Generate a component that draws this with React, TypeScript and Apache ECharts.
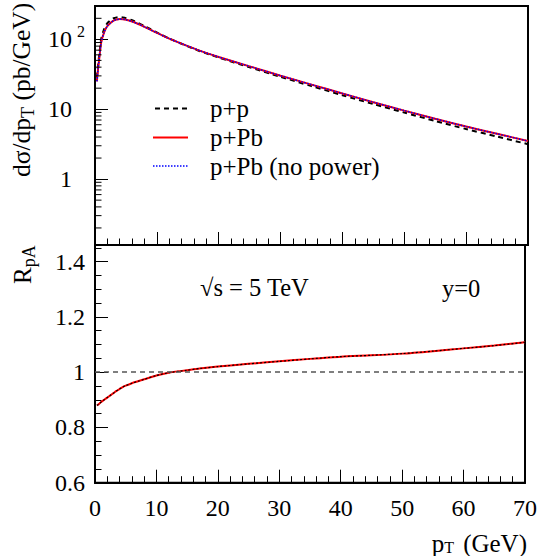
import React, { useEffect, useRef } from "react";
import * as echarts from "echarts";

// pT grid (GeV)
const pT = [0.3, 0.5, 0.75, 1, 1.5, 2, 2.5, 3, 3.5, 4, 4.5, 5, 6, 7, 8, 10, 12, 15, 17, 20, 25, 30, 35, 40, 45, 50, 55, 60, 65, 70];
// dsigma/dpT (pb/GeV)
const sigmaPP = [28.4, 43.1, 67.6, 100.9, 142.2, 170.7, 187.8, 200.2, 206, 207.7, 205.1, 200.8, 187.5, 171.7, 155, 125.5, 102.7, 79.4, 67.6, 54.9, 39.8, 29.07, 21.43, 15.88, 11.86, 8.95, 6.79, 5.2, 4.06, 3.16];
const sigmaPPb = [25, 38, 60, 90, 128, 155, 172, 185, 192, 195, 194, 191, 180, 166, 151, 124, 102.5, 80, 68.5, 56, 41, 30.2, 22.5, 16.8, 12.6, 9.55, 7.3, 5.65, 4.45, 3.5];
const sigmaPPbNoPower = [25, 38, 60, 90, 128, 155, 172, 185, 192, 195, 194, 191, 180, 166, 151, 124, 102.5, 80, 68.5, 56, 41, 30.2, 22.5, 16.8, 12.6, 9.55, 7.3, 5.65, 4.45, 3.5];
// R_pA
const rpA = [0.88, 0.882, 0.887, 0.892, 0.9, 0.908, 0.916, 0.924, 0.932, 0.939, 0.946, 0.951, 0.96, 0.967, 0.974, 0.988, 0.998, 1.007, 1.013, 1.02, 1.03, 1.039, 1.048, 1.056, 1.061, 1.067, 1.076, 1.086, 1.096, 1.108];
const rpANoPower = [0.88, 0.882, 0.887, 0.892, 0.9, 0.908, 0.916, 0.924, 0.932, 0.939, 0.946, 0.951, 0.96, 0.967, 0.974, 0.988, 0.998, 1.007, 1.013, 1.02, 1.03, 1.039, 1.048, 1.056, 1.061, 1.067, 1.076, 1.086, 1.096, 1.108];
// log-axis minor tick values
const logMinorTicks = [0.2, 0.3, 0.4, 0.5, 0.6, 0.7, 0.8, 0.9, 2, 3, 4, 5, 6, 7, 8, 9, 20, 30, 40, 50, 60, 70, 80, 90, 200];
const legendNames = ["p+p", "p+Pb", "p+Pb (no power)"];

const FONT = '"Liberation Serif", "Times New Roman", serif';

function tw(s: string, size: number): number {
  const c = document.createElement("canvas").getContext("2d")!;
  c.font = `${size}px "Liberation Serif"`;
  return c.measureText(s).width;
}

export default function App() {
  const ref = useRef<HTMLDivElement>(null);
  useEffect(() => {
    const el = ref.current!;
    const chart = echarts.init(el, null, { renderer: "svg", width: 540, height: 556 });
    const L = 95;
    const RIGHT = 12;
    const tickLine = { color: "#000", width: 1 };
    const axisLine = { show: true, lineStyle: { color: "#000", width: 2 } };
    const xCommon = {
      type: "value" as const,
      min: 0,
      max: 70,
      interval: 10,
      axisLine,
      axisTick: { show: true, inside: true, length: 13, lineStyle: tickLine },
      minorTick: { show: true, splitNumber: 5, length: 6.5, lineStyle: tickLine },
      splitLine: { show: false },
      minorSplitLine: { show: false },
    };
    const labelStyle = { color: "#000", fontFamily: FONT, fontSize: 24 };

    chart.setOption({
      animation: false,
      backgroundColor: "#fff",
      grid: [
        { left: L, right: RIGHT, top: 6, height: 239, show: true, borderColor: "#000", borderWidth: 2, backgroundColor: "transparent" },
        { left: L, right: RIGHT, top: 245, height: 237.7, show: true, borderColor: "#000", borderWidth: 2, backgroundColor: "transparent" },
      ],
      xAxis: [
        { ...xCommon, gridIndex: 0, axisLabel: { show: false } },
        { ...xCommon, gridIndex: 1, axisLabel: { show: true, margin: 13, ...labelStyle } },
      ],
      yAxis: [
        {
          gridIndex: 0,
          type: "log",
          logBase: 10,
          min: 0.114,
          max: 300,
          position: "left",
          axisLine,
          axisTick: { show: true, inside: true, length: 13, lineStyle: tickLine },
          splitLine: { show: false },
          axisLabel: {
            margin: 23,
            showMinLabel: false,
            showMaxLabel: false,
            ...labelStyle,
            formatter: (v: number) => {
              const r = Math.round(Math.log10(v));
              return r === 2 || r === 1 ? "10" : r === 0 ? "1" : "";
            },
          },
        },
        {
          gridIndex: 1,
          type: "value",
          min: 0.6,
          max: 1.46,
          interval: 0.2,
          position: "left",
          offset: 0,
          axisLine,
          axisTick: { show: true, inside: true, length: 13, lineStyle: tickLine },
          splitLine: { show: false },
          axisLabel: {
            margin: 10,
            showMaxLabel: false,
            ...labelStyle,
            formatter: (v: number) => (Math.abs(v - 1) < 1e-6 ? "1" : v.toFixed(1)),
          },
        },
        {
          gridIndex: 1,
          type: "value",
          min: 0.6,
          max: 1.46,
          interval: 0.05,
          position: "left",
          offset: 0,
          axisLine: { show: false },
          axisTick: { show: true, inside: true, length: 6.5, lineStyle: tickLine },
          splitLine: { show: false },
          axisLabel: { show: false },
        },
      ],
      series: [
        {
          name: legendNames[0],
          type: "line",
          xAxisIndex: 0,
          yAxisIndex: 0,
          symbol: "none",
          smooth: 0.25,
          z: 2,
          data: pT.map((x, i) => [x, sigmaPP[i]]),
          lineStyle: { color: "#000", width: 2, type: [5, 4] },
        },
        {
          name: legendNames[1],
          type: "line",
          xAxisIndex: 0,
          yAxisIndex: 0,
          symbol: "none",
          smooth: 0.25,
          z: 3,
          data: pT.map((x, i) => [x, sigmaPPb[i]]),
          lineStyle: { color: "#ff0000", width: 2 },
        },
        {
          name: legendNames[2],
          type: "line",
          xAxisIndex: 0,
          yAxisIndex: 0,
          symbol: "none",
          smooth: 0.25,
          z: 4,
          data: pT.map((x, i) => [x, sigmaPPbNoPower[i]]),
          lineStyle: { color: "#0000ff", width: 1.5, type: [1.5, 1.5] },
        },
        {
          name: "RpA",
          type: "line",
          xAxisIndex: 1,
          yAxisIndex: 1,
          symbol: "none",
          smooth: 0.25,
          z: 3,
          data: pT.map((x, i) => [x, rpA[i]]),
          lineStyle: { color: "#ff0000", width: 2 },
          markLine: {
            silent: true,
            symbol: "none",
            label: { show: false },
            lineStyle: { color: "#555", width: 1.5, type: [5, 4] },
            data: [{ yAxis: 1 }],
          },
        },
        {
          name: "RpA no power",
          type: "line",
          xAxisIndex: 1,
          yAxisIndex: 1,
          symbol: "none",
          smooth: 0.25,
          z: 4,
          data: pT.map((x, i) => [x, rpANoPower[i]]),
          lineStyle: { color: "#000", width: 1.2, type: [2, 2] },
        },
      ],
    });

    const g: any[] = [];
    const line = (x1: number, y1: number, x2: number, y2: number, style: any) => ({
      type: "line",
      shape: { x1, y1, x2, y2 },
      style: { stroke: "#000", lineWidth: 1, ...style },
      z: 10,
    });
    const text = (x: number, y: number, s: string, size: number, extra: any = {}) => ({
      type: "text",
      x,
      y,
      style: { text: s, fill: "#000", fontSize: size, fontFamily: FONT, align: "left", verticalAlign: "middle", ...extra },
      z: 10,
    });

    // log minor ticks
    logMinorTicks.forEach((v) => {
      const y = chart.convertToPixel({ yAxisIndex: 0 }, v) as number;
      g.push(line(L, y, L + 6.5, y, {}));
    });
    // superscript of 10^2
    const y100 = chart.convertToPixel({ yAxisIndex: 0 }, 100) as number;
    g.push(text(77, y100 - 8, "2", 16));

    // legend
    g.push(line(155, 108.5, 188, 108.5, { lineWidth: 2, lineDash: [5, 4] }));
    g.push(line(153, 137.5, 188, 137.5, { lineWidth: 2, stroke: "#ff0000" }));
    g.push(line(153, 166, 188, 166, { lineWidth: 1.5, stroke: "#0000ff", lineDash: [1.5, 1.5] }));
    g.push(text(210, 108.5, legendNames[0], 25));
    g.push(text(210, 137.5, legendNames[1], 25));
    g.push(text(210, 166, legendNames[2], 25));

    // annotations
    g.push(text(200, 287, "\u221As = 5 TeV", 24.5));
    g.push(text(442, 288, "y=0", 24.5));

    // y title top: dσ/dp_T (pb/GeV)
    const a1 = "d\u03c3/dp";
    const w1 = tw(a1, 25.5);
    const wT = tw("T", 18);
    g.push({
      type: "group",
      x: 21.5,
      y: 177,
      rotation: Math.PI / 2,
      children: [
        text(0, 0, a1, 25.5),
        text(w1, 6, "T", 18),
        text(w1 + wT, 0, " (pb/GeV)", 25.5),
      ],
    });
    // y title bottom: R_pA
    const wR = tw("R", 25);
    g.push({
      type: "group",
      x: 22.5,
      y: 284,
      rotation: Math.PI / 2,
      children: [text(0, 0, "R", 25), text(wR, 6.5, "pA", 18)],
    });
    // x title: p_T  (GeV)
    const wG = tw("(GeV)", 25);
    const xG = 527 - wG;
    const wTx = tw("T", 16);
    const xT = xG - 9 - wTx;
    const wp = tw("p", 25);
    g.push(text(xG, 543, "(GeV)", 25));
    g.push(text(xT, 547, "T", 16));
    g.push(text(xT - wp, 543, "p", 25));

    chart.setOption({ graphic: g });

    return () => chart.dispose();
  }, []);
  return <div ref={ref} style={{ position: "fixed", left: 0, top: 0, width: 540, height: 556 }} />;
}
